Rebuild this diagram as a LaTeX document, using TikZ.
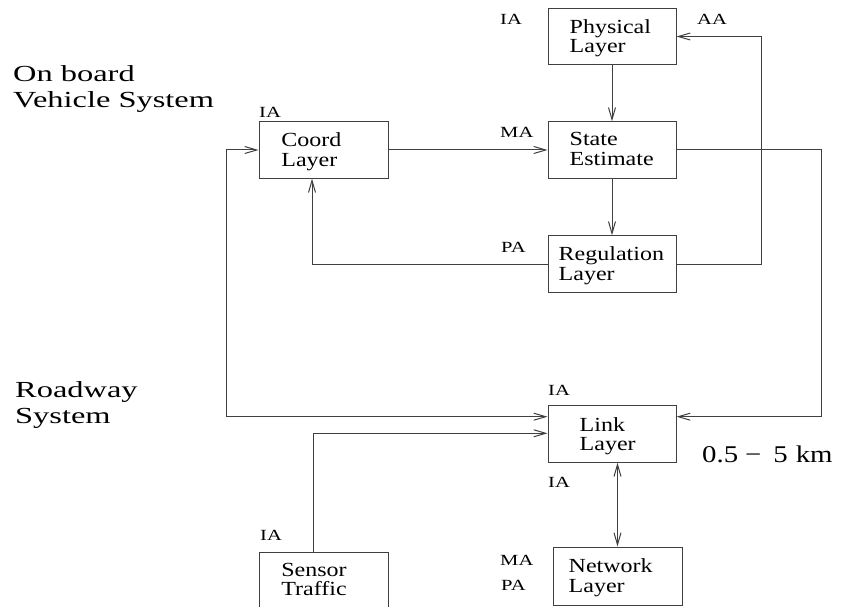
\documentclass[tikz,border=0pt]{standalone}
\usepackage{fontspec}
\setmainfont{Liberation Serif}
\newfontfamily\boxfont[FakeStretch=1.2]{Liberation Serif}
\newfontfamily\smallfont[FakeStretch=1.33]{Liberation Serif}
\newfontfamily\bigfont[FakeStretch=1.41]{Liberation Serif}
\newfontfamily\kmfont[FakeStretch=1.2]{Liberation Serif}
\usetikzlibrary{arrows.meta}
\definecolor{linec}{gray}{0.25}
\begin{document}
\begin{tikzpicture}[x=1pt,y=-1pt,
  box/.style={draw=linec, line width=1pt, minimum width=128pt, minimum height=56.5pt, inner sep=0pt},
  btext/.style={anchor=north west, inner sep=0pt, align=left, font={\boxfont\fontsize{20}{19.5}\selectfont}},
  lab/.style={anchor=base west, inner sep=0pt, font={\smallfont\fontsize{15.5}{16}\selectfont}},
  big/.style={anchor=north west, inner sep=0pt, align=left, font={\bigfont\fontsize{23}{26}\selectfont}},
  kmtext/.style={anchor=base west, inner sep=0pt, font={\kmfont\fontsize{24}{26}\selectfont}},
  conn/.style={draw=linec, line width=1pt, -{Straight Barb[length=12pt,width=7pt]}},
  conn2/.style={conn, {Straight Barb[length=12pt,width=7pt]}-{Straight Barb[length=12pt,width=7pt]}},
]
\clip (0,0) rectangle (844,607);
\fill[white] (0,0) rectangle (844,607);

% boxes
\node[box] (phys) at (612,36.5) {};
\node[box] (state) at (612,150) {};
\node[box] (reg) at (612,264) {};
\node[box, minimum width=129pt] (coord) at (323.5,150) {};
\node[box] (link) at (612,434) {};
\node[box, minimum width=129pt, minimum height=58pt] (net) at (617.5,576) {};
\node[box, minimum width=129pt] (sensor) at (323.5,580.5) {};

% box texts
\node[btext] (physT) at ([xshift=22pt,yshift=-11.3pt]phys.north west) {Physical\\Layer};
\node[btext] (stateT) at ([xshift=22pt,yshift=-11.3pt]state.north west) {State\\Estimate};
\node[btext] (regT) at ([xshift=11pt,yshift=-11.3pt]reg.north west) {Regulation\\Layer};
\node[btext] (coordT) at ([xshift=22.7pt,yshift=-11.3pt]coord.north west) {Coord\\Layer};
\node[btext] (linkT) at ([xshift=32pt,yshift=-12pt]link.north west) {Link\\Layer};
\node[btext] (netT) at ([xshift=16pt,yshift=-12pt]net.north west) {Network\\Layer};
\node[btext] (sensorT) at ([xshift=22.7pt,yshift=-11.3pt]sensor.north west) {Sensor\\Traffic};

% small labels
\node[lab] (l1) at (500,25) {IA};
\node[lab] (l2) at (697,25) {AA};
\node[lab] (l3) at (259,118) {IA};
\node[lab] (l4) at (500,138) {MA};
\node[lab] (l5) at (501,252) {PA};
\node[lab] (l6) at (548,395) {IA};
\node[lab] (l7) at (548,487) {IA};
\node[lab] (l8) at (500,565) {MA};
\node[lab] (l9) at (501,590) {PA};
\node[lab] (l10) at (260,540) {IA};

% big texts
\node[big] (onboard) at (13,65) {On board\\Vehicle System};
\node[big] (roadway) at (15,381) {Roadway\\System};
\node[kmtext] (km) at (702,462.5) {0.5\hspace{7pt}−\hspace{12pt}5\hspace{8pt}km};

% connectors
\draw[conn] (phys.south) -- (state.north);
\draw[conn] (state.south) -- (reg.north);
\draw[conn] (coord.east) -- (state.west);
\draw[conn] (reg.west) -| ([xshift=-11.5pt]coord.south);
\draw[conn] (reg.east) -- ++(85,0) |- (phys.east);
\draw[conn] (state.east) -- ++(144.5,0) |- ([yshift=17.3pt]link.east);
\draw[conn2] (coord.west) -- ++(-32,0) |- ([yshift=17.3pt]link.west);
\draw[conn] ([xshift=-10.2pt]sensor.north) |- ([yshift=0.7pt]link.west);
\draw[conn2] (link.south -| net.north) -- (net.north);
\end{tikzpicture}
\end{document}
